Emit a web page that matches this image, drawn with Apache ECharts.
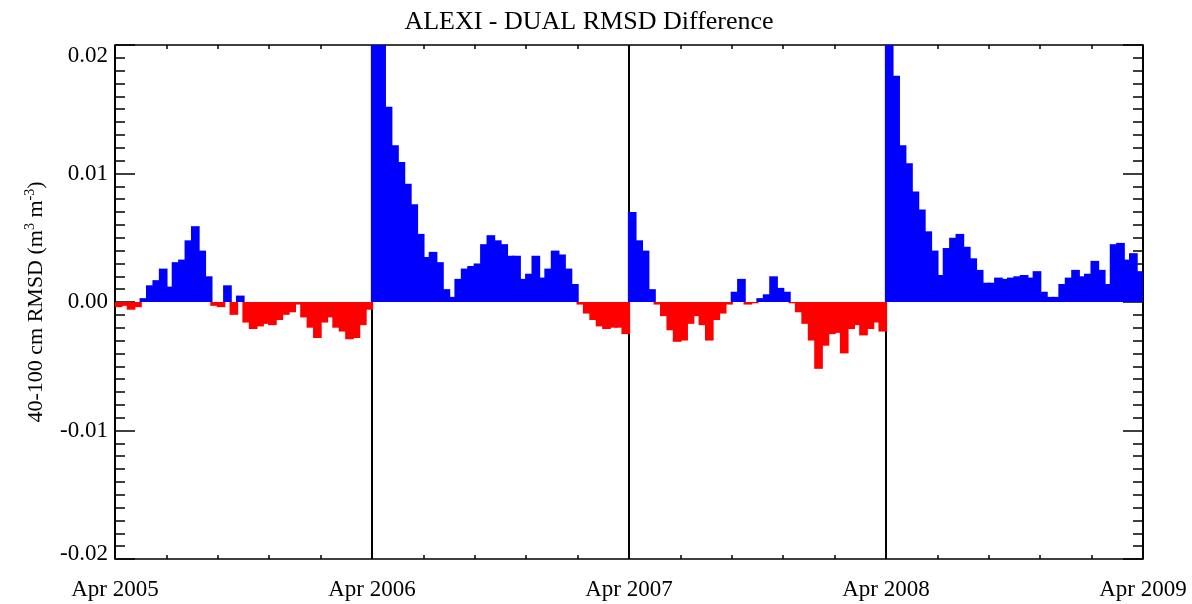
<!DOCTYPE html>
<html>
<head>
<meta charset="utf-8">
<script src="https://cdn.jsdelivr.net/npm/echarts@6/dist/echarts.min.js"></script>
<style>
  html, body { margin: 0; padding: 0; background: #fff; }
  #main { width: 1192px; height: 604px; }
</style>
</head>
<body>
<div id="main"></div>
<script>
// tick labels of the time axis (one per year boundary)
var tickLabels = ['Apr 2005', 'Apr 2006', 'Apr 2007', 'Apr 2008', 'Apr 2009'];

// RMSD difference, ~40 samples per year
var yr2005 = [-0.0004, -0.0003, -0.0006, -0.0004, 0.0003, 0.0013, 0.0017, 0.0026, 0.0012, 0.0031,
              0.0033, 0.0048, 0.0059, 0.0040, 0.0020, -0.0003, -0.0004, 0.0013, -0.0010, 0.0005,
              -0.0016, -0.0021, -0.0019, -0.0017, -0.0018, -0.0014, -0.0010, -0.0008, -0.0002, -0.0012,
              -0.0020, -0.0028, -0.0016, -0.0012, -0.0020, -0.0023, -0.0029, -0.0028, -0.0018, -0.0006];
var yr2006 = [0.025, 0.021, 0.0152, 0.0122, 0.0109, 0.0092, 0.0076, 0.0053, 0.0035, 0.0039,
              0.0031, 0.0010, 0.0004, 0.0018, 0.0026, 0.0028, 0.0030, 0.0045, 0.0052, 0.0048,
              0.0045, 0.0036, 0.0036, 0.0018, 0.0022, 0.0036, 0.0019, 0.0026, 0.0040, 0.0037,
              0.0026, 0.0014, -0.0002, -0.0009, -0.0014, -0.0019, -0.0021, -0.0020, -0.0020, -0.0025];
var yr2007 = [0.0070, 0.0048, 0.0040, 0.0010, -0.0002, -0.0011, -0.0022, -0.0031, -0.0030, -0.0017,
              -0.0011, -0.0018, -0.0030, -0.0014, -0.0009, -0.0002, 0.0008, 0.0018, -0.0002, -0.0001,
              0.0003, 0.0006, 0.0020, 0.0011, 0.0008, -0.0001, -0.0008, -0.0017, -0.0030, -0.0052,
              -0.0034, -0.0025, -0.0024, -0.0040, -0.0021, -0.0018, -0.0026, -0.0021, -0.0016, -0.0023];
var yr2008 = [0.025, 0.0176, 0.0122, 0.0108, 0.0086, 0.0072, 0.0055, 0.0040, 0.0021, 0.0042,
              0.0050, 0.0053, 0.0043, 0.0034, 0.0025, 0.0015, 0.0015, 0.0019, 0.0018, 0.0019,
              0.0020, 0.0021, 0.0019, 0.0024, 0.0008, 0.0004, 0.0004, 0.0014, 0.0019, 0.0025,
              0.0020, 0.0022, 0.0032, 0.0025, 0.0014, 0.0045, 0.0046, 0.0033, 0.0038, 0.0024];

var values = yr2005.concat(yr2006, yr2007, yr2008);
var steps = values.map(function (v, i) { return i; });

var barData = values.map(function (v) {
    return { value: v, itemStyle: { color: v >= 0 ? '#0000ff' : '#ff0000' } };
});

var font = 'Liberation Serif';

var myChart = echarts.init(document.getElementById('main'));

var option = {
    animation: false,
    backgroundColor: '#fff',
    title: {
        text: 'ALEXI - DUAL RMSD Difference',
        left: 584,
        top: 4,
        textAlign: 'center',
        textStyle: { fontFamily: font, fontSize: 26, fontWeight: 'normal', color: '#000' }
    },
    grid: { left: 115, right: 49, top: 45, bottom: 45 },
    xAxis: [
        {
            // hidden axis carrying the bars
            type: 'category',
            data: steps,
            show: false,
            boundaryGap: true
        },
        {
            type: 'value',
            position: 'bottom',
            min: 0, max: 4, interval: 1,
            axisLine: { onZero: false, lineStyle: { color: '#000', width: 1.5 } },
            axisTick: { inside: true, length: 7, lineStyle: { color: '#000', width: 1.5 } },
            minorTick: { show: true, splitNumber: 5, length: 4, lineStyle: { color: '#000', width: 1.5 } },
            splitLine: { show: true, lineStyle: { color: '#000', width: 2 } },
            axisLabel: {
                margin: 19,
                fontFamily: font, fontSize: 23, color: '#000',
                formatter: function (v) { return tickLabels[v]; }
            }
        },
        {
            type: 'value',
            position: 'top',
            min: 0, max: 4, interval: 1,
            axisLine: { onZero: false, lineStyle: { color: '#000', width: 1.5 } },
            axisTick: { inside: true, length: 7, lineStyle: { color: '#000', width: 1.5 } },
            minorTick: { show: true, splitNumber: 5, length: 4, lineStyle: { color: '#000', width: 1.5 } },
            splitLine: { show: false },
            axisLabel: { show: false }
        }
    ],
    yAxis: [
        {
            type: 'value',
            position: 'left',
            min: -0.02, max: 0.02, interval: 0.01,
            name: '{a|40-100 cm RMSD (m}{s|3}{a| m}{s|-3}{a|)}',
            nameLocation: 'middle',
            nameRotate: 90,
            nameGap: 68,
            nameTextStyle: {
                rich: {
                    a: { fontFamily: font, fontSize: 22, color: '#000', lineHeight: 24, verticalAlign: 'bottom' },
                    s: { fontFamily: font, fontSize: 14, color: '#000', lineHeight: 24, verticalAlign: 'top' }
                }
            },
            axisLine: { onZero: false, lineStyle: { color: '#000', width: 1.5 } },
            axisTick: { inside: true, length: 20, lineStyle: { color: '#000', width: 1.5 } },
            minorTick: { show: true, splitNumber: 10, length: 10, lineStyle: { color: '#000', width: 1.5 } },
            splitLine: { show: false },
            axisLabel: {
                margin: 7,
                fontFamily: font, fontSize: 23, color: '#000',
                formatter: function (v) {
                    var s = v.toFixed(2);
                    if (s === '-0.00') s = '0.00';
                    if (v > 0.019) return '{t|' + s + '}';
                    if (v < -0.019) return '{b|' + s + '}';
                    return s;
                },
                rich: {
                    t: { fontFamily: font, fontSize: 23, color: '#000', padding: [22, 0, 0, 0] },
                    b: { fontFamily: font, fontSize: 23, color: '#000', padding: [0, 0, 10, 0] }
                }
            }
        },
        {
            type: 'value',
            position: 'right',
            min: -0.02, max: 0.02, interval: 0.01,
            axisLine: { show: true, onZero: false, lineStyle: { color: '#000', width: 1.5 } },
            axisTick: { inside: true, length: 20, lineStyle: { color: '#000', width: 1.5 } },
            minorTick: { show: true, splitNumber: 10, length: 10, lineStyle: { color: '#000', width: 1.5 } },
            splitLine: { show: false },
            axisLabel: { show: false }
        }
    ],
    series: [
        {
            name: 'RMSD difference',
            type: 'bar',
            xAxisIndex: 0,
            yAxisIndex: 0,
            barWidth: '135%',
            clip: true,
            data: barData
        }
    ]
};

myChart.setOption(option);
</script>
</body>
</html>
